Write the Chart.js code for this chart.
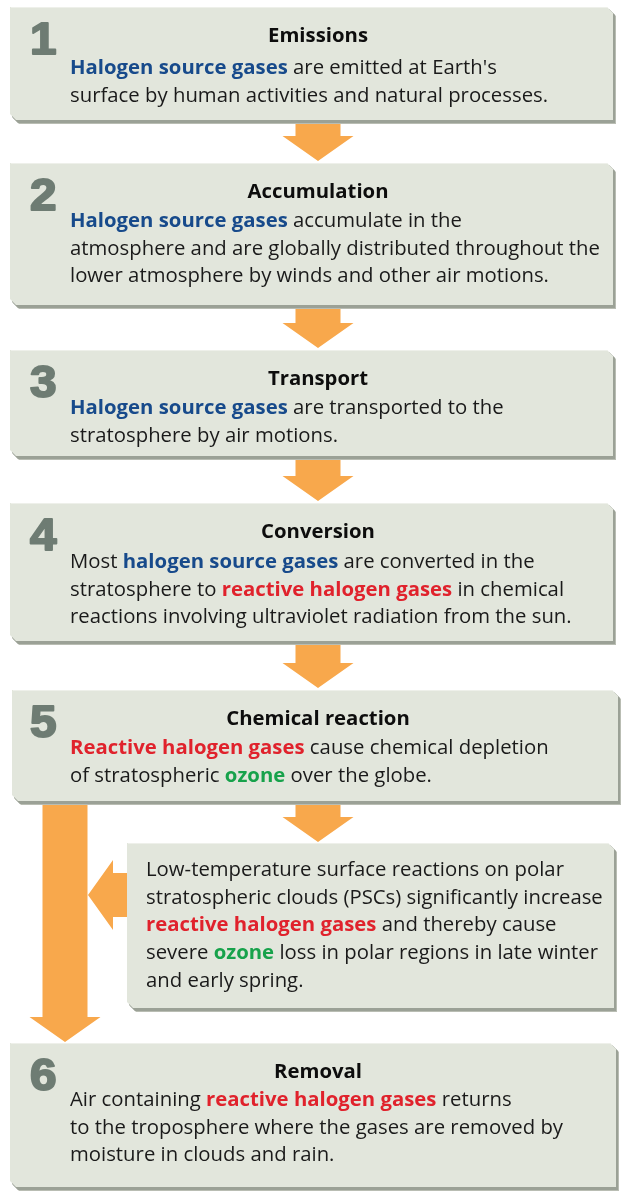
<!DOCTYPE html>
<html>
<head>
<meta charset="utf-8">
<script src="https://cdn.jsdelivr.net/npm/chart.js@4"></script>
<style>
html,body{margin:0;padding:0;background:#fff;}
#wrap{width:623px;height:1197px;position:relative;}
</style>
</head>
<body>
<div id="wrap"><canvas id="c" width="623" height="1197"></canvas></div>
<script>
// ---- content ----
const stepNumbers = ['1', '2', '3', '4', '5', '', '6'];
const stepTitles = ['Emissions', 'Accumulation', 'Transport', 'Conversion', 'Chemical reaction', '', 'Removal'];
const stepBodies = [
  ["{b:Halogen source gases} are emitted at Earth's", "surface by human activities and natural processes."],
  ["{b:Halogen source gases} accumulate in the", "atmosphere and are globally distributed throughout the", "lower atmosphere by winds and other air motions."],
  ["{b:Halogen source gases} are transported to the", "stratosphere by air motions."],
  ["Most {b:halogen source gases} are converted in the", "stratosphere to {r:reactive halogen gases} in chemical", "reactions involving ultraviolet radiation from the sun."],
  ["{r:Reactive halogen gases} cause chemical depletion", "of stratospheric {g:ozone} over the globe."],
  ["Low-temperature surface reactions on polar", "stratospheric clouds (PSCs) significantly increase", "{r:reactive halogen gases} and thereby cause", "severe {g:ozone} loss in polar regions in late winter", "and early spring."],
  ["Air containing {r:reactive halogen gases} returns", "to the troposphere where the gases are removed by", "moisture in clouds and rain."]
];

// ---- layout (positions in the 623 x 1197 frame) ----
const boxRects = [
  [10, 7, 614, 121],
  [10, 163, 614, 306],
  [10, 350, 614, 457],
  [10, 503, 614, 642],
  [12, 690, 619, 802],
  [127, 843, 615, 1009],
  [10, 1043, 617, 1188]
];
const bodyLeft = [70, 70, 70, 70, 70, 146, 70];
const titleOffset = 29, bodyOffsets = [61, 58, 58, 59, 58, 27, 57], lineGap = 27.8;
// down arrows: [centerX, top, tip]
const downArrows = [[318, 121, 161], [318, 306, 348], [318, 457, 501], [318, 642, 688], [318, 802, 842], [65, 802, 1042]];
// left arrow: [centerY, right, tip]
const leftArrows = [[895, 128, 88]];

const C = {
  fill: '#e2e6dc', shadow: '#9ba196', num: '#6e7c73', text: '#1a1a1a', title: '#0d0d0d',
  b: '#174a8b', r: '#e0222c', g: '#17a24b', arrow: '#f8a84c'
};
const FONT = '"Open Sans", "Noto Sans", sans-serif';
const FS = 19.5;

function parse(line) {
  const out = []; const re = /\{(\w):([^}]*)\}/g; let last = 0, m;
  while ((m = re.exec(line))) {
    if (m.index > last) out.push([line.slice(last, m.index), '']);
    out.push([m[2], m[1]]); last = re.lastIndex;
  }
  if (last < line.length) out.push([line.slice(last), '']);
  return out;
}

const diagram = {
  id: 'diagram',
  afterDraw(chart) {
    const ctx = chart.ctx, X = v => chart.scales.x.getPixelForValue(v), Y = v => chart.scales.y.getPixelForValue(v);
    ctx.save();
    ctx.font = FS + 'px ' + FONT;
    const refW = ctx.measureText('atmosphere and are globally distributed throughout the').width;
    const sx = 530 / refW;

    function boxPath(x0, y0, x1, y1, bv) {
      ctx.beginPath();
      ctx.moveTo(x0, y0); ctx.lineTo(x1 - bv, y0); ctx.lineTo(x1, y0 + bv);
      ctx.lineTo(x1, y1); ctx.lineTo(x0 + bv, y1); ctx.lineTo(x0, y1 - bv); ctx.closePath();
    }
    // arrows
    ctx.fillStyle = C.arrow;
    downArrows.forEach(a => {
      const cx = X(a[0]), top = Y(a[1]), tip = Y(a[2]), hs = tip - 25;
      ctx.beginPath();
      ctx.moveTo(cx - 22.5, top); ctx.lineTo(cx + 22.5, top); ctx.lineTo(cx + 22.5, hs);
      ctx.lineTo(cx + 35.5, hs); ctx.lineTo(cx, tip); ctx.lineTo(cx - 35.5, hs); ctx.lineTo(cx - 22.5, hs);
      ctx.closePath(); ctx.fill();
    });
    leftArrows.forEach(a => {
      const cy = Y(a[0]), right = X(a[1]), tip = X(a[2]), hs = tip + 25;
      ctx.beginPath();
      ctx.moveTo(right, cy - 22); ctx.lineTo(right, cy + 22); ctx.lineTo(hs, cy + 22);
      ctx.lineTo(hs, cy + 35); ctx.lineTo(tip, cy); ctx.lineTo(hs, cy - 35); ctx.lineTo(hs, cy - 22);
      ctx.closePath(); ctx.fill();
    });
    // boxes
    boxRects.forEach((r, i) => {
      const x0 = X(r[0]), y0 = Y(r[1]), x1 = X(r[2]), y1 = Y(r[3]);
      ctx.fillStyle = '#b9bdb3';
      boxPath(x0 + 3, y0 + 3, x1 + 2, y1 + 3, 6); ctx.fill();
      ctx.fillStyle = C.shadow;
      boxPath(x0 + 2, y0 + 2, x1 + 1, y1 + 2, 6); ctx.fill();
      ctx.fillStyle = C.fill;
      boxPath(x0, y0, x1 - 1, y1 - 1, 6); ctx.fill();
      ctx.fillStyle = '#eef0ea';
      ctx.fillRect(x0 + 1, y0, x1 - x0 - 8, 1);

      // number
      if (stepNumbers[i]) {
        ctx.fillStyle = C.num; ctx.strokeStyle = C.num; ctx.lineWidth = 2; ctx.lineJoin = 'round';
        ctx.font = 'bold 45px "Liberation Sans", "DejaVu Sans", sans-serif';
        ctx.textBaseline = 'alphabetic'; ctx.textAlign = 'left';
        ctx.save(); ctx.translate(X(30), y0 + 47); ctx.scale(1.06, 1);
        ctx.fillText(stepNumbers[i], 0, 0); ctx.strokeText(stepNumbers[i], 0, 0); ctx.restore();
      }
      // title
      if (stepTitles[i]) {
        ctx.fillStyle = C.title; ctx.font = 'bold ' + FS + 'px ' + FONT;
        ctx.textBaseline = 'middle'; ctx.textAlign = 'center';
        ctx.save(); ctx.translate(X(318), y0 + titleOffset); ctx.scale(sx, 1.03);
        ctx.fillText(stepTitles[i], 0, 0); ctx.restore();
      }
      // body
      ctx.textAlign = 'left'; ctx.textBaseline = 'middle';
      stepBodies[i].forEach((line, k) => {
        ctx.save(); ctx.translate(X(bodyLeft[i]), y0 + bodyOffsets[i] + k * lineGap); ctx.scale(sx, 1.03);
        let cx = 0;
        parse(line).forEach(([t, s]) => {
          ctx.font = (s ? 'bold ' : '') + FS + 'px ' + FONT;
          ctx.fillStyle = s ? C[s] : C.text;
          ctx.fillText(t, cx, 0); cx += ctx.measureText(t).width;
        });
        ctx.restore();
      });
    });
    ctx.restore();
  }
};

new Chart(document.getElementById('c'), {
  type: 'scatter',
  data: { datasets: [{ data: [], pointRadius: 0 }] },
  options: {
    responsive: false, animation: false, events: [],
    layout: { padding: 0 },
    plugins: { legend: { display: false }, tooltip: { enabled: false } },
    scales: {
      x: { type: 'linear', min: 0, max: 623, display: false },
      y: { type: 'linear', min: 0, max: 1197, reverse: true, display: false }
    }
  },
  plugins: [diagram]
});
</script>
</body>
</html>
